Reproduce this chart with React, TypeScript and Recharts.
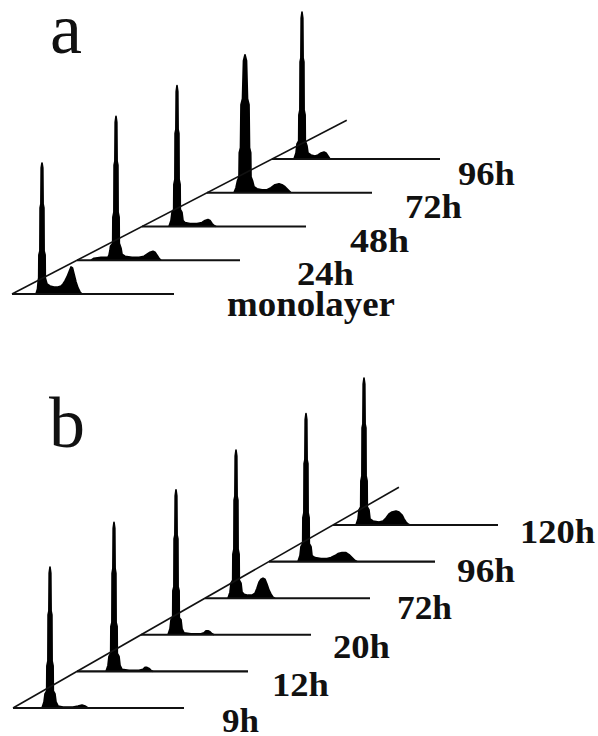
import React from 'react';
import { ComposedChart, Area, XAxis, YAxis, ReferenceLine, ReferenceDot } from 'recharts';

type Point = [number, number];

// DNA histograms: [channel offset from the baseline start, cell count]
// panel a
const monolayerA: Point[] = [[24,0],[25.5,5],[26.2,13],[26.7,16],[26.9,39],[27.9,43],[28.1,86],[28.9,90],[29.2,126],[30,131],[30.8,126],[31.1,90],[31.9,86],[32.1,43],[33.1,39],[33.3,16],[35,10],[38,8],[42,7],[46,7],[49,8],[51,10],[53,13],[55,17],[57,22],[59,27],[60.5,26],[62,20],[64,12],[66,6],[68,2],[70,0]];
const h24A: Point[] = [[14,0],[17,2],[24,3],[31,3],[32,5],[33,10],[33.5,14],[35.7,17],[35.9,43],[36.9,48],[37.1,95],[37.9,99],[38.2,138],[39,144],[39.8,138],[40.1,99],[40.9,95],[41.1,48],[42.1,43],[42.3,17],[44,12],[45,6],[48,4],[55,3],[62,3],[67,4],[70,6],[73,8],[76,9],[78,8],[80,5],[82,2],[84,0]];
const h48A: Point[] = [[27,0],[29,6],[30,14],[31.7,17],[31.9,42],[32.9,47],[33.1,93],[33.9,97],[34.2,135],[35,141],[35.8,135],[36.1,97],[36.9,93],[37.1,47],[38.1,42],[38.3,17],[40,14],[41,6],[43,4],[48,3],[55,3],[60,4],[63,6],[66,7],[68,6],[70,3],[72,1],[74,0]];
const h72A: Point[] = [[27,0],[29,5],[30.5,12],[32,16],[32.3,40],[33.5,45],[34,88],[35.5,94],[36.5,132],[38,138],[39.5,132],[40.5,94],[42,88],[42.5,45],[43.7,40],[44,16],[45.5,12],[47,6],[50,4],[55,3],[60,3],[64,5],[68,8],[72,9],[75,8],[78,6],[81,3],[84,0]];
const h96A: Point[] = [[22,0],[24,6],[25,15],[26.7,18],[26.9,44],[27.9,49],[28.1,97],[28.9,101],[29.2,141],[30,147],[30.8,141],[31.1,101],[31.9,97],[32.1,49],[33.1,44],[33.3,18],[35,13],[36,6],[39,4],[43,3],[46,4],[49,6],[52,7],[54,6],[56,3],[58,0]];

// panel b
const h9B: Point[] = [[29,0],[31,6],[32,14],[33.7,17],[33.9,42],[34.9,47],[35.1,93],[35.9,97],[36.2,135],[37,141],[37.8,135],[38.1,97],[38.9,93],[39.1,47],[40.1,42],[40.3,17],[42,14],[43,6],[45,2],[50,1],[60,1],[65,2],[69,3],[72,2],[75,0]];
const h12B: Point[] = [[29,0],[31,6],[32,15],[33.7,18],[33.9,45],[34.9,49],[35.1,98],[35.9,103],[36.2,143],[37,149],[37.8,143],[38.1,103],[38.9,98],[39.1,49],[40.1,45],[40.3,18],[42,15],[43,6],[45,2],[52,1],[62,1],[66,2],[68,4],[70,4],[72,3],[74,1],[76,0]];
const h20B: Point[] = [[27,0],[29,6],[30,15],[31.7,17],[31.9,44],[32.9,48],[33.1,96],[33.9,100],[34.2,139],[35,145],[35.8,139],[36.1,100],[36.9,96],[37.1,48],[38.1,44],[38.3,17],[40,15],[41,6],[43,2],[50,1],[60,1],[63,2],[65,4],[67,4],[69,3],[71,1],[73,0]];
const h72B: Point[] = [[23,0],[25,6],[26,15],[27.7,18],[27.9,44],[28.9,49],[29.1,98],[29.9,102],[30.2,142],[31,148],[31.8,142],[32.1,102],[32.9,98],[33.1,49],[34.1,44],[34.3,18],[36,15],[37,6],[39,4],[43,3],[47,3],[50,5],[52,10],[54,16],[56,19],[58,20],[60,19],[62,14],[64,8],[66,4],[68,1],[70,0]];
const h96B: Point[] = [[29,0],[31,6],[32,15],[33.7,18],[33.9,44],[34.9,49],[35.1,98],[35.9,102],[36.2,142],[37,148],[37.8,142],[38.1,102],[38.9,98],[39.1,49],[40.1,44],[40.3,18],[42,15],[43,6],[46,4],[52,3],[58,3],[62,4],[66,6],[69,8],[73,9],[77,9],[80,7],[83,4],[86,1],[88,0]];
const h120B: Point[] = [[23,0],[25,6],[26,15],[27.7,18],[27.9,44],[28.9,49],[29.1,97],[29.9,101],[30.2,141],[31,147],[31.8,141],[32.1,101],[32.9,97],[33.1,49],[34.1,44],[34.3,18],[36,15],[37,6],[40,4],[46,3],[50,4],[53,7],[56,11],[59,13],[63,14],[66,13],[69,10],[71,6],[73,3],[75,1],[77,0]];

const labelsA = ['monolayer', '24h', '48h', '72h', '96h'];
const tracesA = [monolayerA, h24A, h48A, h72A, h96A];
const baseLengthsA = [162, 163, 164, 165, 168];

const labelsB = ['9h', '12h', '20h', '72h', '96h', '120h'];
const tracesB = [h9B, h12B, h20B, h72B, h96B, h120B];
const baseLengthsB = [171, 171, 170, 165, 166, 165];

const W = 598;
const H = 368;
const serif = 'Liberation Serif';

interface Layout {
  x0: number;
  y0: number;
  dx: number;
  dy: number;
  diagSteps: number;
  labelPos: [number, number][];
  labelWidth: number[];
  labelSize: number[];
  heading: string;
  headingPos: [number, number];
}

const layoutA: Layout = {
  x0: 12, y0: 74, dx: 65, dy: 33.75, diagSteps: 5.15,
  labelPos: [[227, 52], [297, 83], [350, 116], [405, 150], [458, 183]],
  labelWidth: [168, 57, 59, 57, 57],
  labelSize: [35, 33, 33, 33, 33],
  heading: 'a', headingPos: [50, 315],
};

const layoutB: Layout = {
  x0: 13, y0: 28, dx: 64, dy: 36.6, diagSteps: 6.03,
  labelPos: [[222, 4], [272, 40], [333, 78], [397, 117], [457, 154], [520, 193]],
  labelWidth: [37, 57, 57, 55, 58, 75],
  labelSize: [33, 33, 33, 33, 33, 33],
  heading: 'b', headingPos: [49, 289],
};

function Panel({ traces, labels, baseLengths, layout }: { traces: Point[][]; labels: string[]; baseLengths: number[]; layout: Layout }) {
  const { x0, y0, dx, dy } = layout;
  return (
    <ComposedChart width={W} height={H} margin={{ top: 0, right: 0, bottom: 0, left: 0 }}>
      <XAxis type="number" dataKey="x" domain={[0, W]} hide allowDataOverflow />
      <YAxis type="number" domain={[0, H]} hide allowDataOverflow />
      {traces.map((t, i) => {
        const sx = x0 + i * dx;
        const sy = y0 + i * dy;
        const data = t.map(([ch, n]) => ({ x: sx + ch, y: sy + n }));
        return (
          <Area
            key={'h' + i}
            data={data}
            dataKey="y"
            type="linear"
            baseValue={sy}
            fill="#000"
            fillOpacity={1}
            stroke="#000"
            strokeWidth={1.7}
            strokeLinejoin="round"
            dot={false}
            activeDot={false}
            isAnimationActive={false}
          />
        );
      })}
      {traces.map((_, i) => {
        const sx = x0 + i * dx;
        const sy = y0 + i * dy;
        return (
          <ReferenceLine
            key={'b' + i}
            segment={[{ x: sx, y: sy }, { x: sx + baseLengths[i], y: sy }]}
            stroke="#111"
            strokeWidth={2.1}
          />
        );
      })}
      <ReferenceLine
        segment={[{ x: x0, y: y0 }, { x: x0 + layout.diagSteps * dx, y: y0 + layout.diagSteps * dy }]}
        stroke="#111"
        strokeWidth={1.6}
      />
      {labels.map((lab, i) => (
        <ReferenceDot
          key={'l' + i}
          x={layout.labelPos[i][0]}
          y={layout.labelPos[i][1]}
          r={0}
          shape={(p: any) => (
            <text
              x={p.cx}
              y={p.cy}
              style={{ fontFamily: serif, fontWeight: 700, fontSize: layout.labelSize[i] }}
              fill="#111"
              textLength={layout.labelWidth[i]}
              lengthAdjust="spacingAndGlyphs"
            >
              {lab}
            </text>
          )}
        />
      ))}
      <ReferenceDot
        x={layout.headingPos[0]}
        y={layout.headingPos[1]}
        r={0}
        shape={(p: any) => (
          <text x={p.cx} y={p.cy} style={{ fontFamily: serif, fontSize: 72 }} fill="#111">
            {layout.heading}
          </text>
        )}
      />
    </ComposedChart>
  );
}

export default function App() {
  return (
    <div style={{ position: 'absolute', left: 0, top: 0, width: W, height: 2 * H, background: '#fff' }}>
      <Panel traces={tracesA} labels={labelsA} baseLengths={baseLengthsA} layout={layoutA} />
      <Panel traces={tracesB} labels={labelsB} baseLengths={baseLengthsB} layout={layoutB} />
    </div>
  );
}
